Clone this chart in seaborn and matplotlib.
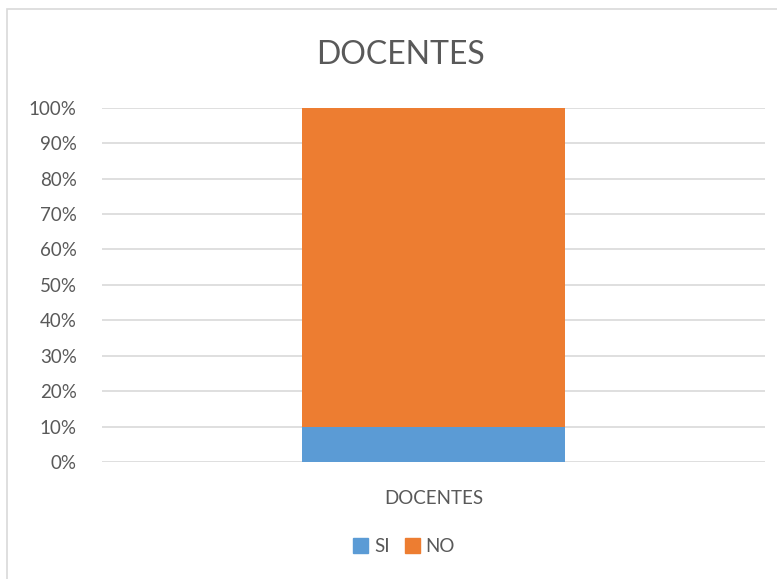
import pandas as pd
import matplotlib.pyplot as plt
import seaborn as sns
from matplotlib.patches import Rectangle, Patch
from matplotlib.ticker import PercentFormatter

sns.set_theme(style="whitegrid")
plt.rcParams["font.family"] = ["Lato", "DejaVu Sans"]

# data
categories = ["DOCENTES"]
si_pct = [10]
no_pct = [90]

df = pd.DataFrame({"grupo": categories, "SI": si_pct, "NO": no_pct})
df["total"] = df["SI"] + df["NO"]

blue = "#5B9BD5"
orange = "#ED7D31"
text_gray = "#595959"

fig = plt.figure(figsize=(7.77, 5.79), dpi=100)
ax = fig.add_axes([0.131, 0.202, 0.854, 0.612])

# stacked: draw the total in orange, SI on top of it in blue
sns.barplot(data=df, x="grupo", y="total", color=orange, width=0.4, saturation=1,
            linewidth=0, ax=ax)
sns.barplot(data=df, x="grupo", y="SI", color=blue, width=0.4, saturation=1,
            linewidth=0, ax=ax)

ax.set_ylim(0, 100)
ax.set_yticks(range(0, 101, 10))
ax.yaxis.set_major_formatter(PercentFormatter(decimals=0))
ax.set_xlim(-0.505, 0.505)
ax.set_xlabel("")
ax.set_ylabel("")
ax.grid(axis="y", color="#D9D9D9", linewidth=1.2)
ax.grid(axis="x", visible=False)
for s in ax.spines.values():
    s.set_visible(False)
ax.tick_params(axis="both", length=0, labelsize=13.5, labelcolor=text_gray)
ax.tick_params(axis="y", pad=18)
ax.tick_params(axis="x", pad=20)
ax.set_axisbelow(True)

fig.text(0.515, 0.905, "DOCENTES", ha="center", va="center", fontsize=23, color=text_gray)

handles = [Patch(color=blue, label="SI"), Patch(color=orange, label="NO")]
fig.legend(handles=handles, loc="center", bbox_to_anchor=(0.52, 0.056), ncol=2, frameon=False,
           fontsize=13.5, labelcolor=text_gray, handlelength=0.8, handleheight=0.8,
           handletextpad=0.3, columnspacing=0.8)

# chart border
fig.patches.append(Rectangle((7 / 777, -0.01), 1.0, 1 - 9 / 579 + 0.01, transform=fig.transFigure,
                             fill=False, edgecolor="#D9D9D9", linewidth=1.2))

fig.savefig("out.png", dpi=100)
